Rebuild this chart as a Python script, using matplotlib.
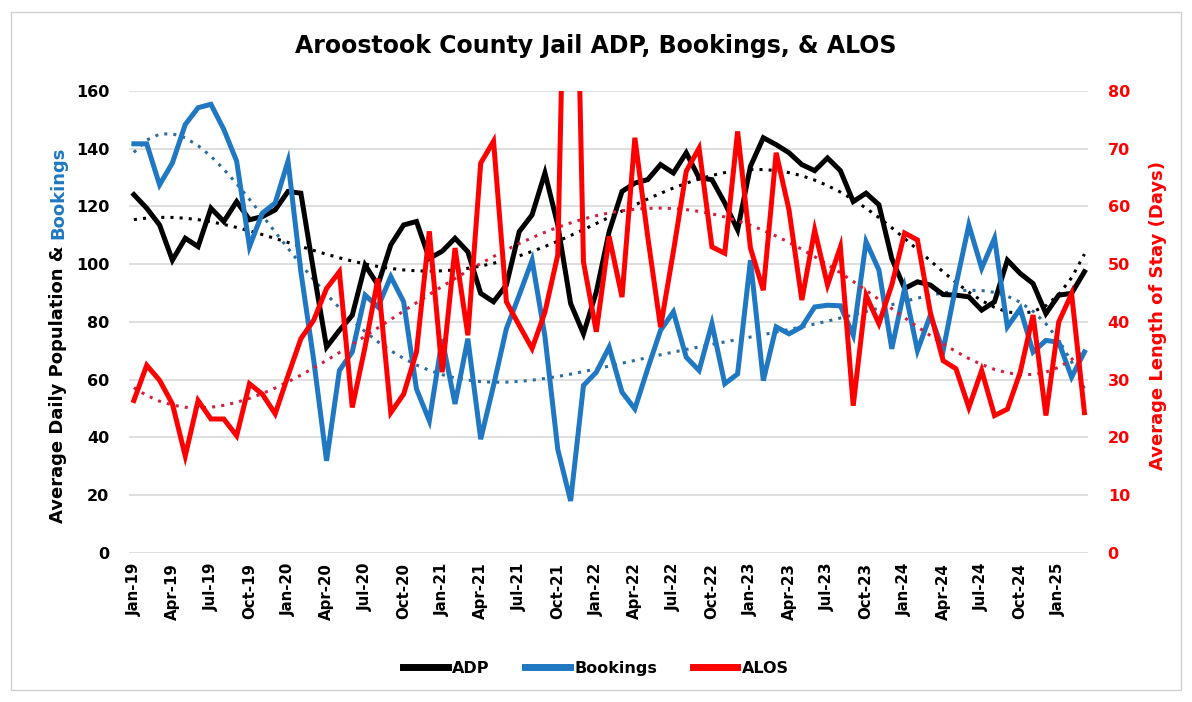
import numpy as np
import pandas as pd
import matplotlib
matplotlib.use("Agg")
import matplotlib.pyplot as plt
from matplotlib.lines import Line2D
from matplotlib.patches import Rectangle

# monthly data, Jan-19 .. Mar-25
months = pd.date_range("2019-01-01", "2025-03-01", freq="MS")

adp = [124.1, 119.4, 113.6, 101.4, 109.0, 106.1, 119.4, 114.8, 121.7, 115.4, 116.5, 118.8,
       125.2, 124.6, 97.4, 71.3, 77.1, 82.3, 99.7, 92.8, 106.7, 113.6, 114.8, 102.0,
       104.5, 109.0, 104.3, 89.9, 87.0, 92.8, 111.3, 117.1, 131.6, 113.6, 86.4, 75.9,
       90.4, 111.3, 125.2, 128.1, 129.3, 134.5, 131.6, 138.6, 129.9, 129.3, 121.2, 111.9,
       133.9, 143.8, 141.4, 138.6, 134.5, 132.4, 136.8, 132.4, 121.7, 124.6, 120.6, 102.0,
       91.6, 93.9, 92.8, 89.5, 89.3, 88.7, 84.1, 87.0, 101.4, 96.8, 93.3, 82.9,
       89.3, 89.9, 97.4]

bookings = [141.7, 141.7, 127.5, 135.1, 148.4, 154.2, 155.4, 146.7, 135.7, 106.1, 117.7, 121.2,
            135.7, 97.4, 66.8, 31.9, 63.2, 69.6, 89.3, 85.2, 95.7, 87.0, 56.8, 45.8,
            74.0, 51.6, 74.2, 39.4, 58.0, 77.7, 89.3, 101.4, 75.0, 35.9, 18.0, 58.0,
            62.6, 71.3, 55.7, 49.9, 63.8, 77.1, 83.5, 67.8, 63.2, 79.4, 58.6, 62.0,
            101.4, 59.7, 78.3, 75.9, 78.3, 85.2, 85.8, 85.6, 75.4, 107.8, 98.0, 70.7,
            91.6, 70.1, 82.3, 70.1, 92.8, 113.6, 98.6, 109.0, 78.3, 84.6, 69.6, 73.6,
            73.0, 60.9, 69.6]

alos = [26.4, 32.5, 29.9, 25.8, 16.8, 26.4, 23.2, 23.2, 20.3, 29.3, 27.5, 24.1,
        30.7, 37.1, 40.3, 45.8, 48.7, 25.2, 35.7, 47.5, 24.3, 27.5, 34.8, 55.7,
        31.3, 52.8, 37.7, 67.5, 71.3, 43.5, 39.4, 35.4, 41.7, 51.6, 155.0, 50.4,
        38.3, 54.8, 44.3, 71.9, 54.8, 39.1, 52.2, 66.1, 70.1, 53.0, 51.9, 73.0,
        52.8, 45.5, 69.3, 59.4, 43.8, 55.9, 46.4, 53.0, 25.5, 44.6, 39.7, 46.4,
        55.4, 54.2, 41.7, 33.3, 31.9, 25.2, 31.6, 23.8, 24.9, 31.3, 41.2, 23.8,
        40.0, 44.9, 24.3]

tick_labels = [m.strftime("%b-%y") for m in months]

BLACK = "#000000"
BLUE = "#1f78c1"
RED = "#ff0000"

x = np.arange(len(months))


def trend(y, deg=6):
    # excel style polynomial trendline
    coef = np.polyfit(x, y, deg)
    return np.polyval(coef, x)


fig = plt.figure(figsize=(11.92, 7.02), dpi=100)
fig.patches.append(Rectangle((0.009, 0.017), 0.982, 0.966, transform=fig.transFigure,
                             fill=False, edgecolor="#d0d0d0", linewidth=1))

ax = fig.add_axes([0.108, 0.2123, 0.805, 0.6581])
ax2 = ax.twinx()

ax.plot(x, trend(adp), color=BLACK, linestyle=(0, (1, 2)), linewidth=2.2)
ax.plot(x, trend(bookings), color="#2a6d9e", linestyle=(0, (1, 2)), linewidth=2.2)
ax.plot(x, adp, color=BLACK, linewidth=3.6, solid_joinstyle="miter")
ax.plot(x, bookings, color=BLUE, linewidth=3.6, solid_joinstyle="miter")

ax2.plot(x, trend(alos), color="#d42040", linestyle=(0, (1, 2)), linewidth=2.2)
ax2.plot(x, alos, color=RED, linewidth=3.6, solid_joinstyle="miter")

ax.set_xlim(-0.4, len(months) - 0.7)
ax.set_ylim(0, 160)
ax.set_yticks(range(0, 161, 20))
ax2.set_ylim(0, 80)
ax2.set_yticks(range(0, 81, 10))

ax.set_xticks(x[::3])
ax.set_xticklabels(tick_labels[::3], rotation=90, fontsize=10.8, fontweight="bold")

ax.grid(axis="y", color="#d9d9d9", linewidth=1.2)
ax.set_axisbelow(True)
for a in (ax, ax2):
    for s in a.spines.values():
        s.set_visible(False)
ax.tick_params(axis="both", length=0)
ax.tick_params(axis="y", pad=14, labelsize=11.5)
ax.tick_params(axis="x", pad=7)
ax2.tick_params(axis="y", length=0, pad=14, labelsize=11.5, labelcolor=RED)
for lab in ax.get_yticklabels() + ax2.get_yticklabels():
    lab.set_fontweight("bold")

fig.text(0.5, 0.935, "Aroostook County Jail ADP, Bookings, & ALOS",
         ha="center", va="center", fontsize=17, fontweight="bold")

# left axis title in two colours
t1 = fig.text(0.0487, 0.255, "Average Daily Population & ", rotation=90,
              ha="center", va="bottom", fontsize=13, fontweight="bold", color=BLACK)
fig.canvas.draw()
bb = t1.get_window_extent()
fig.text(0.0487, bb.y1 / fig.bbox.height, "Bookings", rotation=90,
         ha="center", va="bottom", fontsize=13, fontweight="bold", color=BLUE)

fig.text(0.9715, 0.551, "Average Length of Stay (Days)", rotation=90,
         ha="center", va="center", fontsize=13, fontweight="bold", color=RED)

handles = [Line2D([], [], color=BLACK, linewidth=5),
           Line2D([], [], color=BLUE, linewidth=5),
           Line2D([], [], color=RED, linewidth=5)]
fig.legend(handles, ["ADP", "Bookings", "ALOS"], loc="center", bbox_to_anchor=(0.5, 0.048),
           ncol=3, frameon=False, handlelength=2.8, handletextpad=0.3, columnspacing=2.2,
           prop={"weight": "bold", "size": 11.5})

fig.savefig("out.png", dpi=100)
